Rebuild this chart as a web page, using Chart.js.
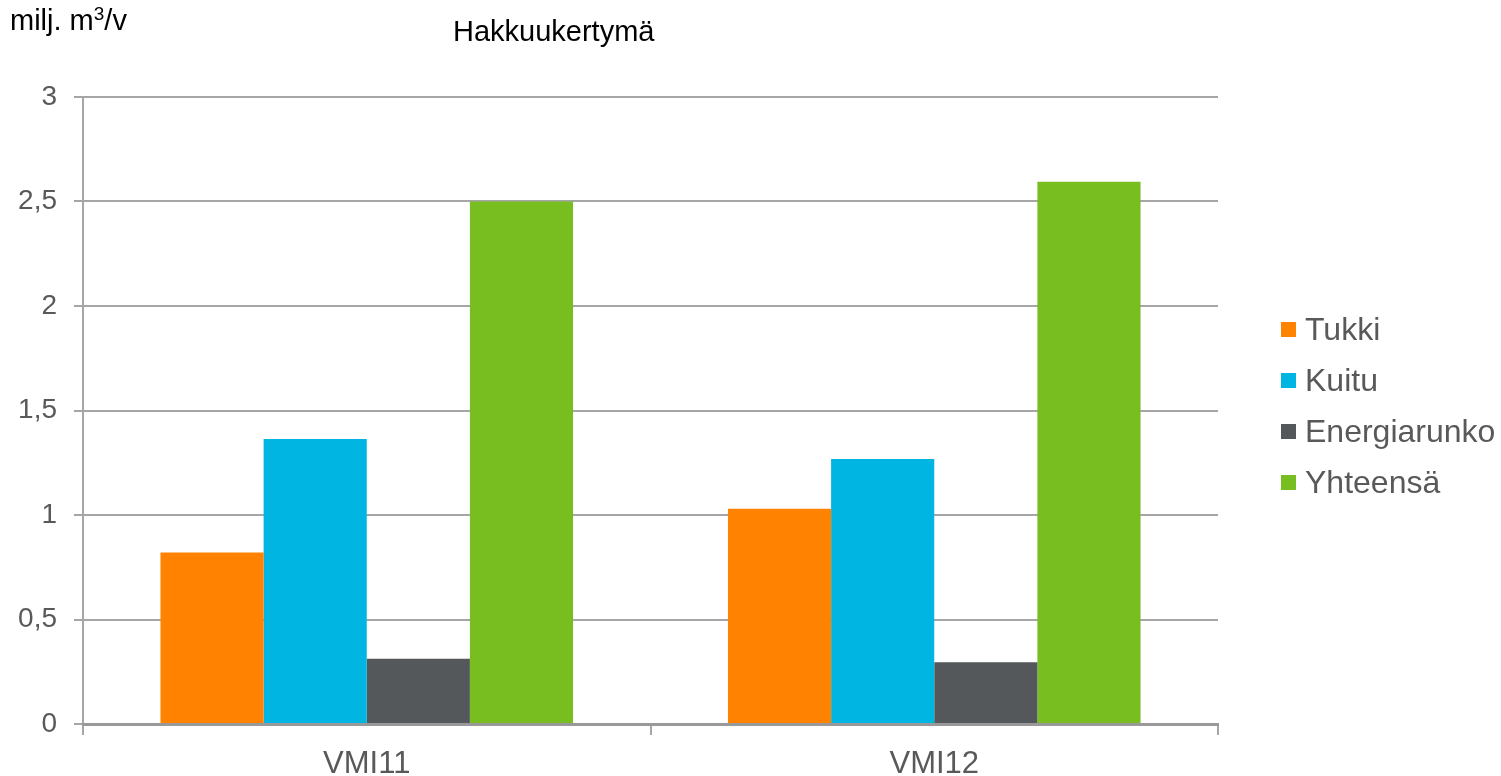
<!DOCTYPE html>
<html>
<head>
<meta charset="utf-8">
<script src="https://cdn.jsdelivr.net/npm/chart.js@4/dist/chart.umd.min.js"></script>
<style>
  body { margin: 0; background: #fff; font-family: "Liberation Sans", Arial, sans-serif; }
  #wrap { position: relative; width: 1501px; height: 776px; }
  #unit { position: absolute; left: 10px; top: 4px; font-size: 29px; color: #000; }
  #unit sup { font-size: 19px; vertical-align: 10px; line-height: 0; }
  #title { position: absolute; left: 453px; top: 15px; font-size: 29px; color: #000; }
  #legend { position: absolute; left: 1281px; top: 304px; }
  .item { display: flex; align-items: center; height: 51px; font-size: 32px; color: #595959; }
  .box { width: 15px; height: 15px; margin-right: 9px; }
</style>
</head>
<body>
<div id="wrap">
  <canvas id="chart" width="1501" height="776"></canvas>
  <div id="unit">milj. m<sup>3</sup>/v</div>
  <div id="title">Hakkuukertymä</div>
  <div id="legend"></div>
</div>
<script>
const categories = ["VMI11", "VMI12"];
const seriesNames = ["Tukki", "Kuitu", "Energiarunko", "Yhteensä"];
const seriesColors = ["#FF8200", "#00B5E2", "#54585A", "#78BE20"];
const tukki = [0.82, 1.03];
const kuitu = [1.364, 1.268];
const energiarunko = [0.312, 0.295];
const yhteensa = [2.5, 2.595];
const yTicks = [0, 0.5, 1, 1.5, 2, 2.5, 3];

const seriesValues = [tukki, kuitu, energiarunko, yhteensa];

const legendEl = document.getElementById("legend");
seriesNames.forEach((name, i) => {
  const row = document.createElement("div");
  row.className = "item";
  const box = document.createElement("span");
  box.className = "box";
  box.style.background = seriesColors[i];
  row.appendChild(box);
  row.appendChild(document.createTextNode(name));
  legendEl.appendChild(row);
});

new Chart(document.getElementById("chart"), {
  type: "bar",
  data: {
    labels: categories,
    datasets: seriesNames.map((name, i) => ({
      label: name,
      data: seriesValues[i],
      backgroundColor: seriesColors[i],
      categoryPercentage: 0.727,
      barPercentage: 1,
    })),
  },
  options: {
    responsive: false,
    animation: false,
    layout: { padding: { top: 97, right: 283, left: 0, bottom: 0 } },
    plugins: {
      legend: { display: false },
      tooltip: { enabled: false },
    },
    scales: {
      y: {
        min: 0,
        max: 3,
        afterBuildTicks: (scale) => {
          scale.ticks = yTicks.map((v) => ({ value: v }));
        },
        afterFit: (scale) => {
          scale.width = 83;
        },
        ticks: {
          padding: 17,
          color: "#595959",
          font: { family: "Liberation Sans", size: 28 },
          callback: (val) => String(val).replace(".", ","),
        },
        grid: { color: "#a6a6a6", lineWidth: 2, tickLength: 9 },
        border: { color: "#a6a6a6", width: 2 },
      },
      x: {
        afterFit: (scale) => {
          scale.height = 52;
        },
        ticks: {
          padding: 11,
          color: "#595959",
          font: { family: "Liberation Sans", size: 31 },
        },
        grid: {
          offset: true,
          drawOnChartArea: false,
          color: "#a6a6a6",
          lineWidth: 2,
          tickLength: 11,
        },
        border: { color: "#999999", width: 3 },
      },
    },
  },
});
</script>
</body>
</html>
